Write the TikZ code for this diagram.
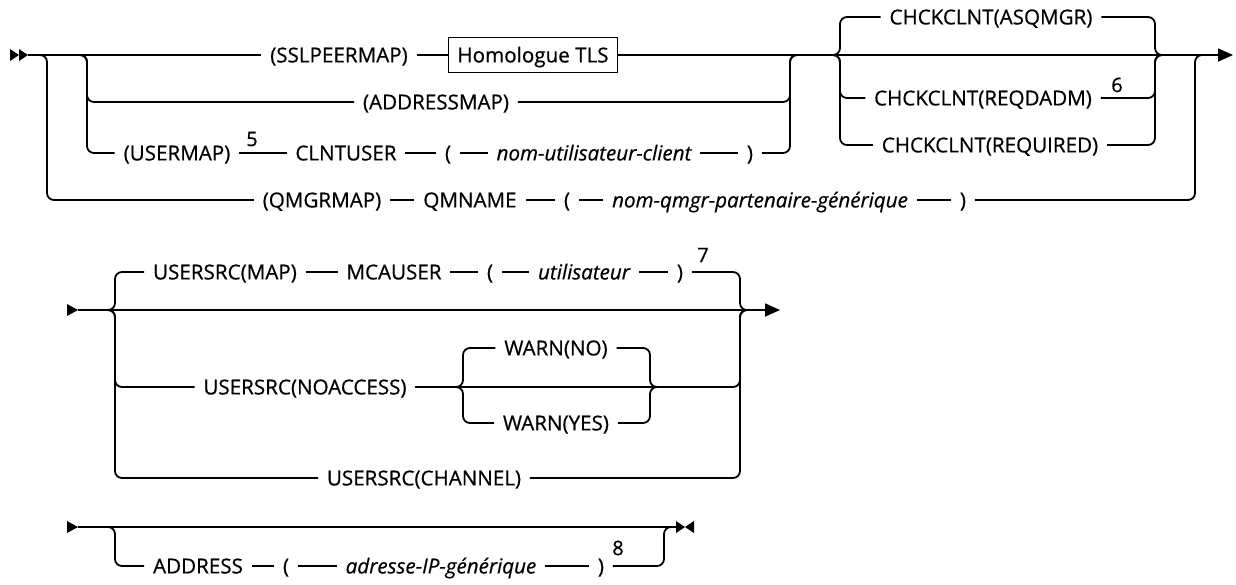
\documentclass[tikz,border=0pt]{standalone}
\usepackage{fontspec}
\setmainfont{Open Sans}[FakeBold=0.6]
\usepackage{tikz}
\usetikzlibrary{arrows.meta}

\begin{document}
\begin{tikzpicture}[x=0.5pt, y=-0.5pt, line width=0.9pt,
    rail/.style={rounded corners=3.5pt},
    kw/.style={inner xsep=4pt, inner ysep=0pt, text height=7.6pt, text depth=0.2pt,
      font=\fontsize{10.3}{12}\selectfont},
    varname/.style={kw, font=\fontsize{10.3}{12}\selectfont\itshape},
    refbox/.style={kw, draw, line width=0.9pt, inner xsep=4.5pt, minimum height=17.5pt},
    note/.style={inner sep=0pt, font=\fontsize{10}{11}\selectfont},
    endtip/.style={-{Triangle[length=7.5pt, width=6.5pt]}}]
    \useasboundingbox (0,0) rectangle (1236,584);

    % first block
    \coordinate (st1) at (28,55);
    \coordinate (sp1) at (47,55);
    \coordinate (sp2) at (87,55);
    \coordinate (mg1) at (790,55);
    \coordinate (cl) at (840,55);
    \coordinate (cr) at (1155,55);
    \coordinate (mg2) at (1195,55);
    \coordinate (ea) at (1215,55);
    \coordinate (en1) at (1233,55);

    \node[kw] (sslp) at (339,55) {(SSLPEERMAP)};
    \node[refbox] (tls) at (533,55) {Homologue TLS};
    \node[kw] (addr) at (436,102) {(ADDRESSMAP)};
    \node[kw] (usrmap) at (177,153) {(USERMAP)};
    \node[note] (n5) at (252,139) {5};
    \node[kw] (clnt) at (346,153) {CLNTUSER};
    \node[kw] (lp1) at (448,153) {(};
    \node[varname] (nuc) at (594,153) {nom-utilisateur-client};
    \node[kw] (rp1) at (750,153) {)};
    \node[kw] (qmgr) at (322,200) {(QMGRMAP)};
    \node[kw] (qmn) at (470,200) {QMNAME};
    \node[kw] (lp2) at (567,200) {(};
    \node[varname] (nqp) at (760,200) {nom-qmgr-partenaire-générique};
    \node[kw] (rp2) at (963,200) {)};
    \node[kw] (asq) at (991,17) {CHCKCLNT(ASQMGR)};
    \node[kw] (reqd) at (983,98) {CHCKCLNT(REQDADM)};
    \node[note] (n6) at (1117,85) {6};
    \node[kw] (reqr) at (990,145) {CHCKCLNT(REQUIRED)};

    \fill (10,49) -- (19,55) -- (10,61) -- cycle;
    \fill (19,49) -- (28,55) -- (19,61) -- cycle;
    \draw (st1) -- (sslp);
    \draw (sslp) -- (tls);
    \draw[endtip] (tls) -- (en1);
    \draw[rail] (st1) -- (sp1) |- (qmgr.west);
    \draw[rail] (sp1) -- (sp2) |- (addr.west);
    \draw[rail] (sp1) -- (sp2) |- (usrmap.west);
    \draw (usrmap) -- (clnt) -- (lp1) -- (nuc) -- (rp1);
    \draw[rail] (addr.east) -| (mg1) -- (cl);
    \draw[rail] (rp1.east) -| (mg1) -- (cl);
    \draw (qmgr) -- (qmn) -- (lp2) -- (nqp) -- (rp2);
    \draw[rail] (rp2.east) -| (mg2) -- (ea);
    \draw[rail] (mg1) -- (cl) |- (asq.west);
    \draw[rail] (mg1) -- (cl) |- (reqd.west);
    \draw[rail] (mg1) -- (cl) |- (reqr.west);
    \draw[rail] (asq.east) -| (cr) -- (mg2);
    \draw[rail] (reqd.east) -| (cr) -- (mg2);
    \draw[rail] (reqr.east) -| (cr) -- (mg2);

    % second block
    \coordinate (st2) at (78,310);
    \coordinate (bl) at (115,310);
    \coordinate (br) at (740,310);
    \coordinate (j2) at (760,310);
    \coordinate (en2) at (780,310);
    \coordinate (wl) at (463,387);
    \coordinate (wr) at (650,387);
    \coordinate (wout) at (690,387);

    \node[kw] (usmap) at (225,272) {USERSRC(MAP)};
    \node[kw] (mca) at (394,272) {MCAUSER};
    \node[kw] (lp3) at (490,272) {(};
    \node[varname] (util) at (584,272) {utilisateur};
    \node[kw] (rp3) at (680,272) {)};
    \node[note] (n7) at (703,255) {7};
    \node[kw] (noacc) at (305,387) {USERSRC(NOACCESS)};
    \node[kw] (wno) at (556,348) {WARN(NO)};
    \node[kw] (wyes) at (556,423) {WARN(YES)};
    \node[kw] (chan) at (424,478) {USERSRC(CHANNEL)};

    \fill (67,304) -- (78,310) -- (67,316) -- cycle;
    \draw[endtip] (st2) -- (en2);
    \draw[rail] (st2) -- (bl) |- (usmap.west);
    \draw[rail] (st2) -- (bl) |- (noacc.west);
    \draw[rail] (st2) -- (bl) |- (chan.west);
    \draw (usmap) -- (mca) -- (lp3) -- (util) -- (rp3);
    \draw[rail] (rp3.east) -| (br) -- (j2);
    \draw[rail] (noacc.east) -| (br) -- (j2);
    \draw[rail] (chan.east) -| (br) -- (j2);
    \draw[rail] (noacc.east) -- (wl) |- (wno.west);
    \draw[rail] (noacc.east) -- (wl) |- (wyes.west);
    \draw[rail] (wno.east) -| (wr) -- (wout);
    \draw[rail] (wyes.east) -| (wr) -- (wout);

    % third block
    \coordinate (st3) at (78,527);
    \coordinate (al) at (115,527);
    \coordinate (ar) at (664,527);
    \coordinate (tm) at (677,527);

    \node[kw] (addrs) at (198,566) {ADDRESS};
    \node[kw] (lp4) at (286,566) {(};
    \node[varname] (ipg) at (441,566) {adresse-IP-générique};
    \node[kw] (rp4) at (601,566) {)};
    \node[note] (n8) at (618,548) {8};

    \fill (67,521) -- (78,527) -- (67,533) -- cycle;
    \draw (st3) -- (tm);
    \fill (676,521) -- (685,527) -- (676,533) -- cycle;
    \fill (694,521) -- (685,527) -- (694,533) -- cycle;
    \draw[rail] (st3) -- (al) |- (addrs.west);
    \draw (addrs) -- (lp4) -- (ipg) -- (rp4);
    \draw[rail] (rp4.east) -| (ar) -- (tm);
\end{tikzpicture}
\end{document}
